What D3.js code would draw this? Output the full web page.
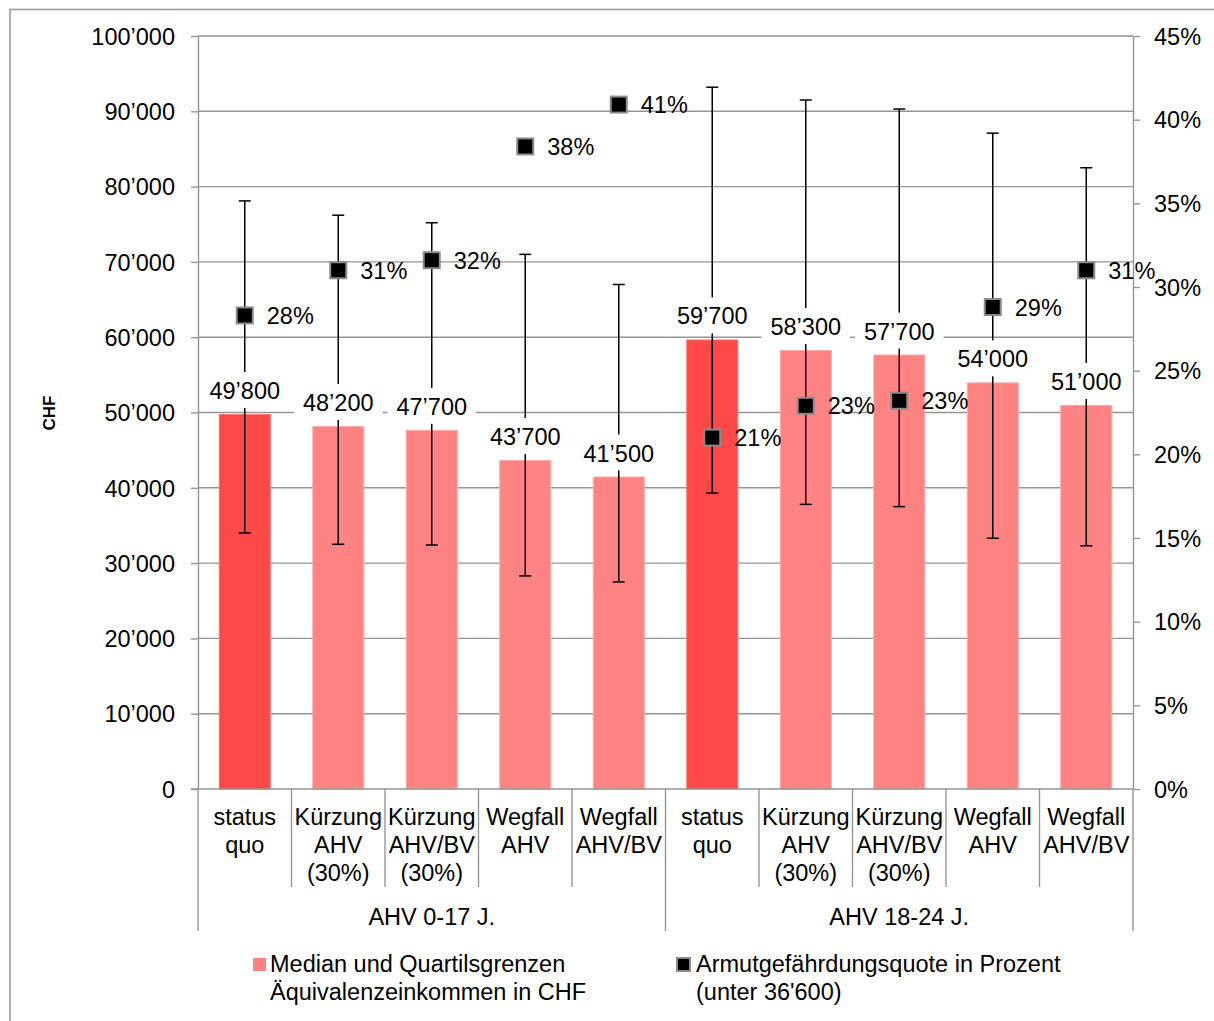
<!DOCTYPE html>
<html>
<head>
<meta charset="utf-8">
<script src="https://cdn.jsdelivr.net/npm/d3@7"></script>
<style>
  html, body { margin: 0; padding: 0; background: #fff; }
  svg { display: block; }
  text { font-family: "Liberation Sans", Arial, sans-serif; fill: #000; }
</style>
</head>
<body>
<svg id="chart" width="1214" height="1021"></svg>
<script>
// ---------- data ----------
const categories = [
  "status\nquo", "Kürzung\nAHV\n(30%)", "Kürzung\nAHV/BV\n(30%)", "Wegfall\nAHV", "Wegfall\nAHV/BV",
  "status\nquo", "Kürzung\nAHV\n(30%)", "Kürzung\nAHV/BV\n(30%)", "Wegfall\nAHV", "Wegfall\nAHV/BV"
];
const groups = ["AHV 0-17 J.", "AHV 18-24 J."];
const groupSizes = [5, 5];
const median = [49800, 48200, 47700, 43700, 41500, 59700, 58300, 57700, 54000, 51000];
const quartileLow = [34000, 32500, 32400, 28300, 27500, 39300, 37800, 37500, 33300, 32300];
const quartileHigh = [78100, 76200, 75200, 71000, 67000, 93200, 91500, 90300, 87100, 82500];
const poverty = [0.283, 0.310, 0.316, 0.384, 0.409, 0.210, 0.229, 0.232, 0.288, 0.310];
const leftTicks = [0, 10000, 20000, 30000, 40000, 50000, 60000, 70000, 80000, 90000, 100000];
const rightTicks = [0, 0.05, 0.10, 0.15, 0.20, 0.25, 0.30, 0.35, 0.40, 0.45];
const legendLabels = [
  "Median und Quartilsgrenzen\nÄquivalenzeinkommen in CHF",
  "Armutgefährdungsquote in Prozent\n(unter 36'600)"
];
const yTitle = "CHF";

// ---------- styles ----------
const colorStatus = "#FF4848";
const colorOther = "#FF8383";
const gridColor = "#959595";
const FS = 23.5;

const svg = d3.select("#chart");
const L = 198, R = 1133, T = 36, B = 789;

const loc = d3.formatLocale({decimal: ".", thousands: "’", grouping: [3], currency: ["", ""]});
const fmtCHF = loc.format(",d");
const fmtPct = d3.format(".0%");

const pad = 1 - 52 / 93.5;
const x = d3.scaleBand().domain(d3.range(categories.length)).range([L, R])
  .paddingInner(pad).paddingOuter(pad / 2);
const step = x.step();
const cx = i => x(i) + x.bandwidth() / 2;
const yL = d3.scaleLinear().domain([0, 100000]).range([B, T]);
const yR = d3.scaleLinear().domain([0, 0.45]).range([B, T]);

// outer border
svg.append("rect").attr("x", 10).attr("y", 9.5).attr("width", 1230).attr("height", 1040)
  .attr("fill", "none").attr("stroke", "#9a9a9a").attr("stroke-width", 1.6);

// gridlines
svg.append("g").selectAll("line").data(leftTicks.filter(d => d > 0)).join("line")
  .attr("x1", L).attr("x2", R).attr("y1", d => yL(d)).attr("y2", d => yL(d))
  .attr("stroke", gridColor).attr("stroke-width", 1.4);

// left axis
const gL = svg.append("g").attr("transform", `translate(${L},0)`)
  .call(d3.axisLeft(yL).tickValues(leftTicks).tickFormat(fmtCHF).tickSize(7).tickPadding(16).tickSizeOuter(0));
gL.select(".domain").attr("stroke", gridColor).attr("stroke-width", 1.4);
gL.selectAll(".tick line").attr("stroke", gridColor).attr("stroke-width", 1.4);
gL.selectAll(".tick text").style("font-size", FS + "px").attr("dy", "0.35em");

// right axis
const gR = svg.append("g").attr("transform", `translate(${R},0)`)
  .call(d3.axisRight(yR).tickValues(rightTicks).tickFormat(fmtPct).tickSize(7).tickPadding(14).tickSizeOuter(0));
gR.select(".domain").attr("stroke", gridColor).attr("stroke-width", 1.4);
gR.selectAll(".tick line").attr("stroke", gridColor).attr("stroke-width", 1.4);
gR.selectAll(".tick text").style("font-size", FS + "px").attr("dy", "0.35em");

// y title
svg.append("text").attr("transform", `translate(55,413) rotate(-90)`)
  .attr("text-anchor", "middle").style("font-size", "17px").style("font-weight", "bold").text(yTitle);

// bars
svg.append("g").selectAll("rect").data(median).join("rect")
  .attr("x", (d, i) => x(i) + 0.5).attr("width", x.bandwidth() - 1)
  .attr("y", d => yL(d) + 0.5).attr("height", d => B - yL(d) - 0.5)
  .attr("fill", (d, i) => categories[i].startsWith("status") ? colorStatus : colorOther)
  .attr("stroke", (d, i) => categories[i].startsWith("status") ? "#FF7070" : "#FFA8A8")
  .attr("stroke-width", 1);

// category axis
const gX = svg.append("g");
gX.append("line").attr("x1", L - 7).attr("x2", R).attr("y1", B).attr("y2", B)
  .attr("stroke", gridColor).attr("stroke-width", 1.4);
let groupBounds = [0];
groupSizes.forEach(s => groupBounds.push(groupBounds[groupBounds.length - 1] + s));
d3.range(categories.length + 1).forEach(i => {
  const isGroup = groupBounds.includes(i);
  gX.append("line").attr("x1", L + i * step).attr("x2", L + i * step)
    .attr("y1", B).attr("y2", isGroup ? 931 : 887)
    .attr("stroke", gridColor).attr("stroke-width", 1.4);
});
categories.forEach((c, i) => {
  const t = gX.append("text").attr("text-anchor", "middle").style("font-size", FS + "px");
  c.split("\n").forEach((ln, k) => {
    t.append("tspan").attr("x", cx(i)).attr("y", 825 + k * 28).text(ln);
  });
});
groups.forEach((g, k) => {
  const a = L + groupBounds[k] * step, b = L + groupBounds[k + 1] * step;
  gX.append("text").attr("x", (a + b) / 2).attr("y", 925).attr("text-anchor", "middle")
    .style("font-size", FS + "px").text(g);
});

// error bars
const gE = svg.append("g").attr("stroke", "#000").attr("stroke-width", 1.5);
median.forEach((m, i) => {
  const xc = cx(i);
  gE.append("line").attr("x1", xc).attr("x2", xc).attr("y1", yL(quartileLow[i])).attr("y2", yL(quartileHigh[i]));
  gE.append("line").attr("x1", xc - 6).attr("x2", xc + 6).attr("y1", yL(quartileLow[i])).attr("y2", yL(quartileLow[i]));
  gE.append("line").attr("x1", xc - 6).attr("x2", xc + 6).attr("y1", yL(quartileHigh[i])).attr("y2", yL(quartileHigh[i]));
});

// poverty markers
svg.append("g").selectAll("rect").data(poverty).join("rect")
  .attr("x", (d, i) => cx(i) - 8).attr("y", d => yR(d) - 8)
  .attr("width", 16).attr("height", 16)
  .attr("fill", "#000").attr("stroke", "#8a8a8a").attr("stroke-width", 2);

// median labels with white background
const gML = svg.append("g");
median.forEach((m, i) => {
  const g = gML.append("g");
  const by = yL(m) - 15;
  const txt = g.append("text").attr("x", cx(i)).attr("y", by).attr("text-anchor", "middle")
    .style("font-size", FS + "px").text(fmtCHF(m));
  const w = txt.node().getComputedTextLength();
  g.insert("rect", "text").attr("x", cx(i) - w / 2 - 9).attr("y", by - 27)
    .attr("width", w + 18).attr("height", 36).attr("fill", "#fff");
});

// poverty labels (no background)
svg.append("g").selectAll("text").data(poverty).join("text")
  .attr("x", (d, i) => cx(i) + 22).attr("y", d => yR(d) + 8.5)
  .style("font-size", FS + "px").text(d => fmtPct(d));

// legend
const legendX = [253, 677];
const legendText = [270, 696];
legendLabels.forEach((lab, k) => {
  svg.append("rect").attr("x", legendX[k]).attr("y", 958).attr("width", 13).attr("height", 13)
    .attr("fill", k === 0 ? colorOther : "#000")
    .attr("stroke", k === 0 ? "none" : "#8a8a8a").attr("stroke-width", 2);
  const t = svg.append("text").style("font-size", FS + "px");
  lab.split("\n").forEach((ln, j) => {
    t.append("tspan").attr("x", legendText[k]).attr("y", 972 + j * 28).text(ln);
  });
});
</script>
</body>
</html>
